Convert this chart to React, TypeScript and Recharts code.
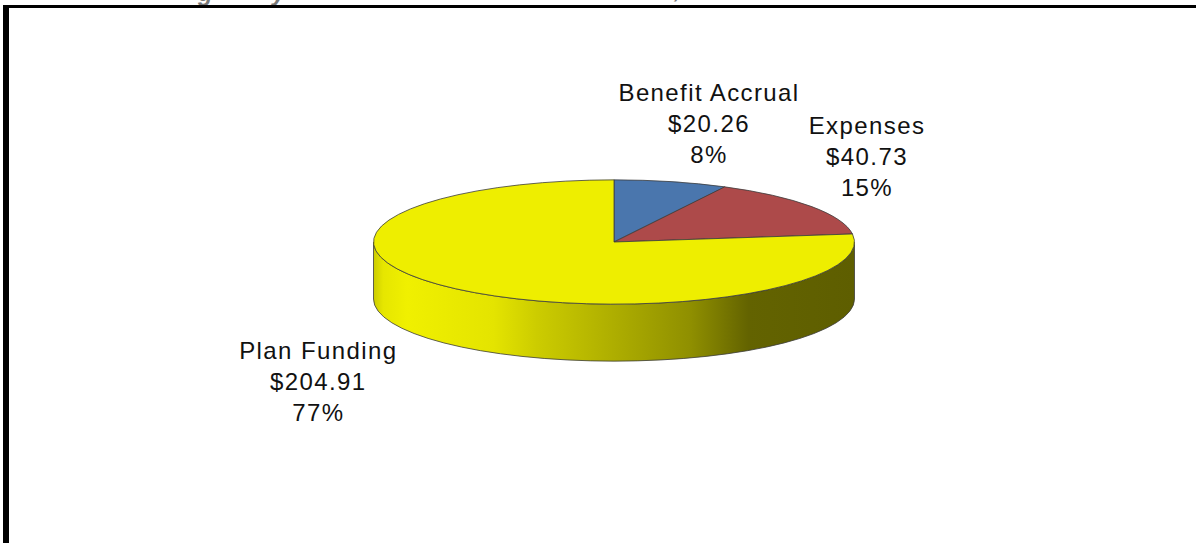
import { PieChart, Pie } from 'recharts'

const CATEGORIES = ['Benefit Accrual', 'Expenses', 'Plan Funding']
const AMOUNTS = [20.26, 40.73, 204.91]
const SLICE_COLORS = ['#4A76AD', '#AD4A4A', '#EEEE00']

const WALL_STOPS = [
  { offset: 0, color: '#cccc00' },
  { offset: 0.02, color: '#e6e600' },
  { offset: 0.07, color: '#f0f000' },
  { offset: 0.25, color: '#e4e400' },
  { offset: 0.34, color: '#cccc00' },
  { offset: 0.53, color: '#a8a800' },
  { offset: 0.66, color: '#8f8f00' },
  { offset: 0.78, color: '#636300' },
  { offset: 1, color: '#5e5e00' },
]

// where each label's middle line sits, relative to the slice's rim point
const LABEL_OFFSETS = [
  { dx: 38, dy: -50 },
  { dx: 56, dy: -41 },
  { dx: -137, dy: 101 },
]

const data = CATEGORIES.map((name, i) => ({
  name,
  value: AMOUNTS[i],
  fill: SLICE_COLORS[i],
}))

const TILT = 62 / 240
const DEPTH = 57
const EDGE = '#3c3c3c'
const HEADING_FONT = 'italic bold 24px Liberation Sans, Arial, sans-serif'

const rad = (deg: number) => (deg * Math.PI) / 180

function rimPoint(cx: number, cy: number, r: number, angle: number) {
  return {
    x: cx + r * Math.cos(rad(angle)),
    y: cy - r * TILT * Math.sin(rad(angle)),
  }
}

function TiltedSlice(props: any) {
  const { cx, cy, outerRadius: r, startAngle, endAngle, fill } = props
  const ry = r * TILT
  const a = rimPoint(cx, cy, r, startAngle)
  const b = rimPoint(cx, cy, r, endAngle)
  const large = Math.abs(startAngle - endAngle) > 180 ? 1 : 0
  const top = `M${cx},${cy} L${a.x},${a.y} A${r},${ry} 0 ${large} 1 ${b.x},${b.y} Z`

  // the front half of the rim runs from angle 0 round to -180
  const wallStart = Math.min(startAngle, 0)
  const wallEnd = Math.max(endAngle, -180)
  let wall = null
  if (wallStart > wallEnd) {
    const p = rimPoint(cx, cy, r, wallStart)
    const q = rimPoint(cx, cy, r, wallEnd)
    wall = (
      <path
        d={`M${p.x},${p.y} A${r},${ry} 0 0 1 ${q.x},${q.y} L${q.x},${q.y + DEPTH} A${r},${ry} 0 0 0 ${p.x},${p.y + DEPTH} Z`}
        fill="url(#wallShade)"
        stroke={EDGE}
        strokeWidth={0.8}
      />
    )
  }

  return (
    <g>
      {wall}
      <path d={top} fill={fill} stroke={EDGE} strokeWidth={0.8} strokeLinejoin="round" />
    </g>
  )
}

function SliceLabel(props: any) {
  const { cx, cy, outerRadius, midAngle, index, name, value, percent } = props
  const rim = rimPoint(cx, cy, outerRadius, midAngle)
  const x = rim.x + LABEL_OFFSETS[index].dx
  const y = rim.y + LABEL_OFFSETS[index].dy
  return (
    <text
      x={x}
      y={y}
      textAnchor="middle"
      fill="#111"
      fontFamily="Liberation Sans, Arial, sans-serif"
      fontSize={24}
      letterSpacing={1.4}
    >
      <tspan x={x} dy={-31}>{name}</tspan>
      <tspan x={x} dy={31}>{`$${value.toFixed(2)}`}</tspan>
      <tspan x={x} dy={31}>{`${Math.round(percent * 100)}%`}</tspan>
    </text>
  )
}

export default function App() {
  return (
    <div style={{ position: 'absolute', left: 0, top: 0, width: 1196, height: 543, overflow: 'hidden', background: '#fff' }}>
      {/* cut-off heading above the frame, only its descenders are left */}
      <div style={{ position: 'absolute', left: 198, top: -21, font: HEADING_FONT, color: '#777' }}>g</div>
      <div style={{ position: 'absolute', left: 272, top: -21, font: HEADING_FONT, color: '#777' }}>y</div>
      <div style={{ position: 'absolute', left: 674, top: -24, font: HEADING_FONT, color: '#777' }}>,</div>
      <div style={{ position: 'absolute', left: 3, top: 5, right: 0, height: 3, background: '#000' }} />
      <div style={{ position: 'absolute', left: 3, top: 5, bottom: 0, width: 6, background: '#000' }} />
      <PieChart width={1196} height={543} margin={{ top: 0, right: 0, bottom: 0, left: 0 }} style={{ position: 'absolute', left: 0, top: 0 }}>
        <defs>
          <linearGradient id="wallShade" x1="0" y1="0" x2="1" y2="0">
            {WALL_STOPS.map((s) => (
              <stop key={s.offset} offset={s.offset} stopColor={s.color} />
            ))}
          </linearGradient>
        </defs>
        <Pie
          data={data}
          dataKey="value"
          nameKey="name"
          cx={614}
          cy={242}
          outerRadius={240.5}
          startAngle={90}
          endAngle={-270}
          shape={TiltedSlice}
          label={SliceLabel}
          labelLine={false}
          isAnimationActive={false}
        />
      </PieChart>
    </div>
  )
}
